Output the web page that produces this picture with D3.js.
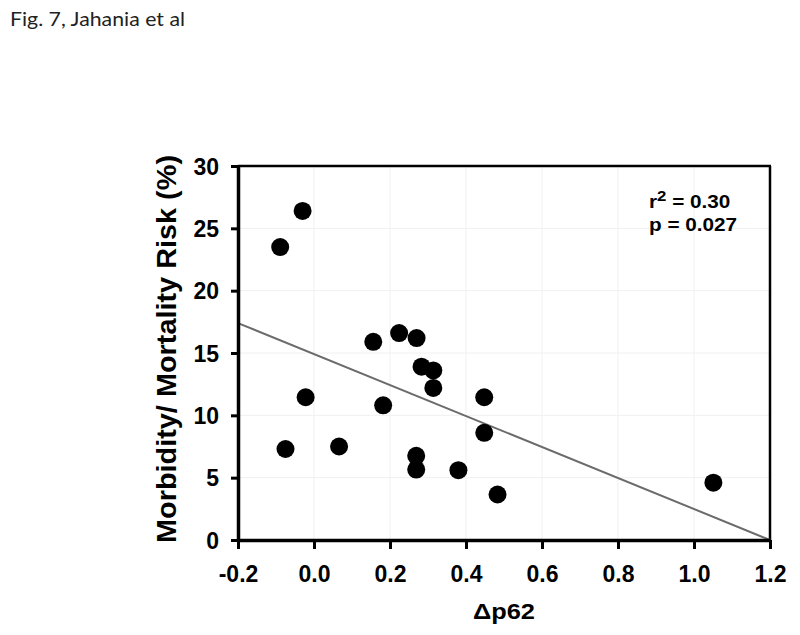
<!DOCTYPE html>
<html><head><meta charset="utf-8">
<script src="https://cdn.jsdelivr.net/npm/d3@7"></script>
<style>body{margin:0;background:#fff}svg{display:block}</style>
</head><body>
<script>
const xValues = [-0.089,-0.030,0.156,0.224,0.270,0.283,0.314,0.314,-0.022,0.182,-0.075,0.066,0.269,0.269,0.380,0.448,0.448,0.483,1.051];
const yValues = [23.5,26.4,15.9,16.6,16.2,13.9,13.6,12.2,11.45,10.8,7.3,7.5,6.75,5.65,5.6,11.45,8.6,3.65,4.6];
const xTicks = [-0.2,0.0,0.2,0.4,0.6,0.8,1.0,1.2];
const yTicks = [0,5,10,15,20,25,30];
const fitLine = [[-0.2,17.4],[1.2,0]];
const title = "Fig. 7, Jahania et al";
const stats = ["r", "2", " = 0.30", "p = 0.027"];

const W=800,H=635;
const svg=d3.select("body").append("svg").attr("width",W).attr("height",H);
const L=238,R=770,T=166,B=540;
const x=d3.scaleLinear().domain([-0.2,1.2]).range([L,R]);
const y=d3.scaleLinear().domain([0,30]).range([B,T]);
const AR="Liberation Sans, Arial, sans-serif";

svg.append("text").attr("x",10).attr("y",26).attr("font-family","Lato, Open Sans, sans-serif")
  .attr("font-size",19).attr("fill","#222").attr("textLength",175).attr("lengthAdjust","spacingAndGlyphs").text(title);

// grid
const g=svg.append("g");
g.selectAll(".gx").data(xTicks).enter().append("line")
  .attr("x1",d=>x(d)).attr("x2",d=>x(d)).attr("y1",T).attr("y2",B).attr("stroke","#f0f0f0").attr("stroke-width",1);
g.selectAll(".gy").data(yTicks).enter().append("line")
  .attr("y1",d=>y(d)).attr("y2",d=>y(d)).attr("x1",L).attr("x2",R).attr("stroke","#f0f0f0").attr("stroke-width",1);

// frame top/right
svg.append("line").attr("x1",L).attr("x2",R+1).attr("y1",T).attr("y2",T).attr("stroke","#000").attr("stroke-width",2.5);
svg.append("line").attr("x1",R).attr("x2",R).attr("y1",T).attr("y2",B).attr("stroke","#000").attr("stroke-width",2.5);

// fit line
svg.append("line").attr("x1",x(fitLine[0][0])).attr("y1",y(fitLine[0][1]))
  .attr("x2",x(fitLine[1][0])).attr("y2",y(fitLine[1][1])).attr("stroke","#6b6b6b").attr("stroke-width",2);

// points
const pts=xValues.map((v,i)=>[v,yValues[i]]);
svg.selectAll(".pt").data(pts).enter().append("circle")
  .attr("cx",d=>x(d[0])).attr("cy",d=>y(d[1])).attr("r",9).attr("fill","#000");

// axes
const xa=svg.append("g").attr("transform",`translate(0,${B})`)
  .call(d3.axisBottom(x).tickValues(xTicks).tickFormat(d3.format(".1f")).tickSize(9).tickSizeOuter(0));
const ya=svg.append("g").attr("transform",`translate(${L},0)`)
  .call(d3.axisLeft(y).tickValues(yTicks).tickFormat(d3.format("d")).tickSize(7).tickSizeOuter(0));
[xa,ya].forEach(a=>{
  a.select(".domain").attr("stroke","#000").attr("stroke-width",3.5);
  a.selectAll(".tick line").attr("stroke","#000").attr("stroke-width",3);
  a.selectAll(".tick text").attr("font-family",AR)
   .attr("font-weight","bold").attr("font-size",23).attr("fill","#000");
});
xa.selectAll(".tick text").attr("y",0).attr("dy",0).attr("transform","translate(0,42)")
  .text(d=>d<0?"-"+d3.format(".1f")(-d):d3.format(".1f")(d));
ya.selectAll(".tick text").attr("x",-19).attr("dy","0.36em");

// axis labels
svg.append("text").attr("transform",`translate(176,${349}) rotate(-90)`)
  .attr("text-anchor","middle").attr("font-family",AR)
  .attr("font-weight","bold").attr("font-size",28).attr("fill","#000")
  .attr("textLength",388).attr("lengthAdjust","spacingAndGlyphs").text("Morbidity/ Mortality Risk (%)");
svg.append("text").attr("x",504).attr("y",619).attr("text-anchor","middle")
  .attr("font-family",AR).attr("font-weight","bold")
  .attr("font-size",22).attr("fill","#000").attr("textLength",62).attr("lengthAdjust","spacingAndGlyphs").text("Δp62");

// stats
const sg=svg.append("g").attr("transform","translate(649,0) scale(1.12,1)");
const st=sg.append("text").attr("x",0).attr("y",208).attr("font-family",AR)
  .attr("font-weight","bold").attr("font-size",18.5).attr("fill","#000");
st.append("tspan").text(stats[0]);
st.append("tspan").attr("dy",-7).attr("font-size",15).text(stats[1]);
st.append("tspan").attr("dy",7).text(stats[2]);
sg.append("text").attr("x",0).attr("y",231).attr("font-family",AR)
  .attr("font-weight","bold").attr("font-size",18.5).attr("fill","#000").text(stats[3]);
</script>
</body></html>
